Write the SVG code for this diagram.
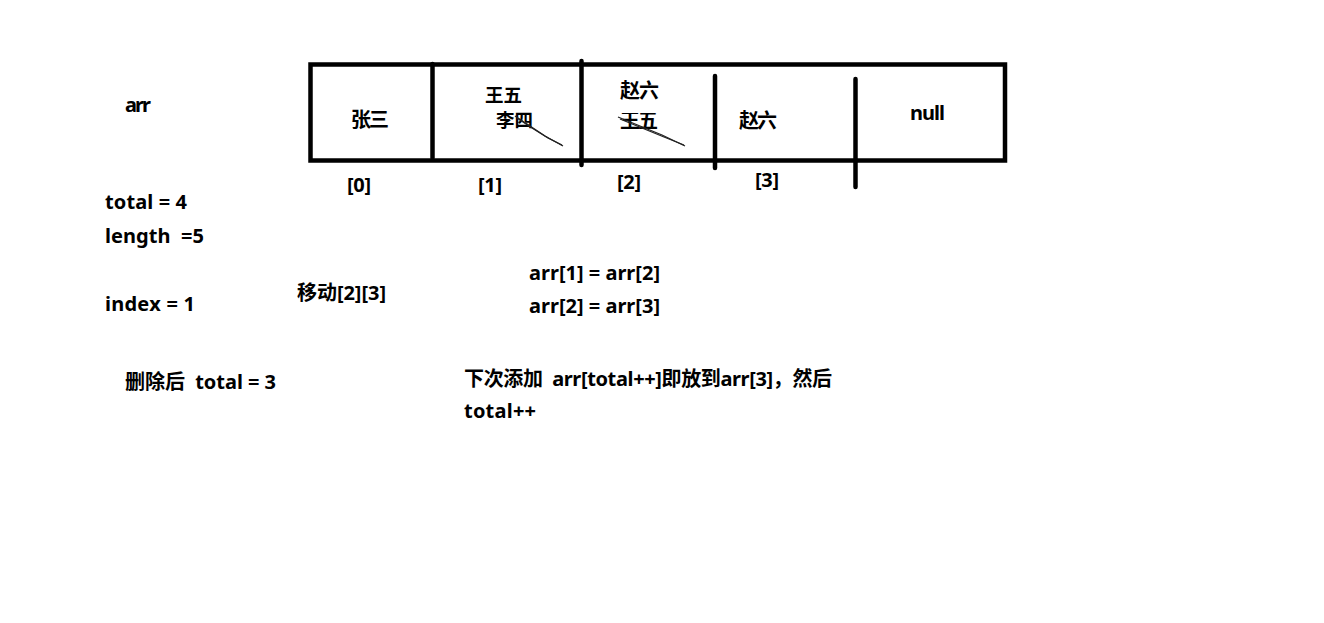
<svg xmlns="http://www.w3.org/2000/svg" width="1324" height="623" viewBox="0 0 1324 623">
<style>
text{font-family:"Noto Sans","Noto Sans CJK SC",sans-serif;font-weight:bold;font-size:20px;fill:#000;white-space:pre}
.sm{font-size:18.5px}
.bar{stroke:#000;stroke-width:4.5;stroke-linecap:round;fill:none}
.scr{stroke:#222;stroke-width:1.3;fill:none}
</style>
<defs>
<clipPath id="erase"><rect x="610" y="113" width="60" height="20"/></clipPath>
</defs>
<rect width="1324" height="623" fill="#fff"/>
<g id="array">
<rect x="310.5" y="64.5" width="694.5" height="96" class="bar" stroke-linecap="butt"/>
</g>
<g id="dividers">
<line x1="432.5" y1="64" x2="432.5" y2="158" class="bar"/>
<line x1="581.5" y1="61" x2="581.5" y2="165" class="bar"/>
<line x1="715" y1="76" x2="715" y2="168" class="bar"/>
<line x1="855.5" y1="79" x2="855.5" y2="187" class="bar"/>
</g>
<g id="cell0">
<text x="351" y="127" textLength="38">张三</text>
<text x="347" y="192" textLength="24">[0]</text>
</g>
<g id="cell1">
<text x="485" y="102" class="sm">王五</text>
<text x="496" y="127" class="sm">李四</text>
<polyline class="scr" points="515,116 530,126 545,136 563,146"/>
<polyline class="scr" points="517,118 532,128 548,138 562,145"/>
<text x="478" y="192" textLength="24">[1]</text>
</g>
<g id="cell2">
<text x="620" y="98" textLength="39">赵六</text>
<text x="620" y="128" textLength="38" clip-path="url(#erase)">王五</text>
<polyline class="scr" points="618,117 640,126 662,135 685,146"/>
<polyline class="scr" points="620,119 642,128 664,137 684,145"/>
<text x="617" y="189" textLength="24">[2]</text>
</g>
<g id="cell3">
<text x="739" y="128" textLength="38">赵六</text>
<text x="755" y="187" textLength="24">[3]</text>
</g>
<g id="cell4">
<text x="910" y="120" textLength="35">null</text>
</g>
<g id="notes">
<text x="125" y="112" textLength="26">arr</text>
<text x="105" y="209" textLength="82">total = 4</text>
<text x="105" y="243" textLength="99">length  =5</text>
<text x="105" y="311" textLength="90">index = 1</text>
<text x="297" y="300" textLength="89">移动[2][3]</text>
<text x="125" y="389" textLength="151">删除后  total = 3</text>
<text x="529" y="280" textLength="131">arr[1] = arr[2]</text>
<text x="529" y="313" textLength="131">arr[2] = arr[3]</text>
<text x="464" y="386" textLength="368">下次添加  arr[total++]即放到arr[3]，然后</text>
<text x="464" y="418" textLength="72">total++</text>
</g>
</svg>
